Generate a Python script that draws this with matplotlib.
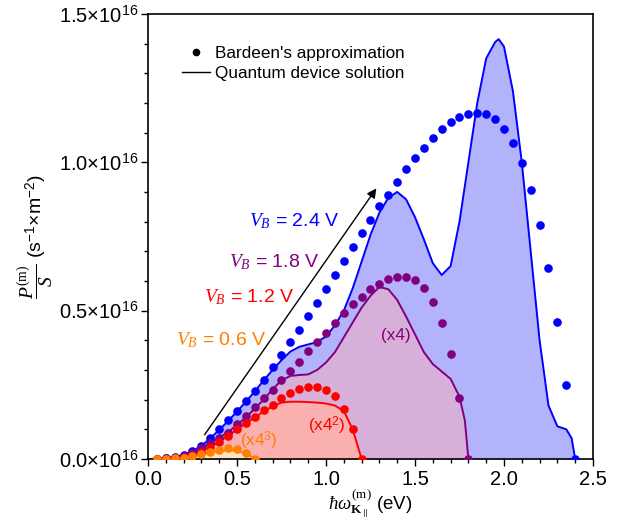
import numpy as np
import matplotlib
matplotlib.use("Agg")
import matplotlib.pyplot as plt
from matplotlib.ticker import MultipleLocator, FixedLocator, FixedFormatter, FormatStrFormatter

plt.rcParams['font.family'] = ['Liberation Sans', 'DejaVu Sans']
plt.rcParams['mathtext.fontset'] = 'custom'
plt.rcParams['mathtext.rm'] = 'Liberation Sans'
plt.rcParams['mathtext.it'] = 'Liberation Serif:italic'
plt.rcParams['mathtext.bf'] = 'Liberation Serif:bold'
plt.rcParams['mathtext.sf'] = 'Liberation Serif'   # used for upright serif bits

# --- Bardeen's approximation (dots), units of 1e16 s^-1 m^-2 ---
E_dots_24 = [0.05, 0.10, 0.15, 0.20, 0.25, 0.30, 0.35, 0.40, 0.45, 0.50, 0.55, 0.60,
             0.65, 0.70, 0.75, 0.80, 0.85, 0.90, 0.95, 1.00, 1.05, 1.10, 1.15, 1.20,
             1.25, 1.30, 1.35, 1.40, 1.45, 1.50, 1.55, 1.60, 1.65, 1.70, 1.75, 1.80,
             1.85, 1.90, 1.95, 2.00, 2.05, 2.10, 2.15, 2.20, 2.25, 2.30, 2.35, 2.40]
P_dots_24 = [0.0, 0.003, 0.007, 0.013, 0.027, 0.044, 0.072, 0.10, 0.131, 0.162, 0.195, 0.229,
             0.266, 0.31, 0.35, 0.393, 0.436, 0.482, 0.526, 0.574, 0.621, 0.667, 0.714, 0.761,
             0.806, 0.853, 0.891, 0.935, 0.976, 1.013, 1.049, 1.081, 1.111, 1.135, 1.153, 1.164,
             1.165, 1.162, 1.145, 1.113, 1.064, 0.997, 0.908, 0.79, 0.643, 0.463, 0.248, 0.0]

E_dots_18 = [0.05, 0.10, 0.15, 0.20, 0.25, 0.30, 0.35, 0.40, 0.45, 0.50, 0.55, 0.60,
             0.65, 0.70, 0.75, 0.80, 0.85, 0.90, 0.95, 1.00, 1.05, 1.10, 1.15, 1.20,
             1.25, 1.30, 1.35, 1.40, 1.45, 1.50, 1.55, 1.60, 1.65, 1.70, 1.75, 1.80]
P_dots_18 = [0.0, 0.002, 0.005, 0.01, 0.02, 0.036, 0.054, 0.072, 0.089, 0.118, 0.145, 0.176,
             0.204, 0.233, 0.266, 0.298, 0.328, 0.363, 0.393, 0.424, 0.457, 0.491, 0.521, 0.547,
             0.572, 0.591, 0.605, 0.613, 0.614, 0.603, 0.577, 0.53, 0.459, 0.353, 0.205, 0.0]

E_dots_12 = [0.05, 0.10, 0.15, 0.20, 0.25, 0.30, 0.35, 0.40, 0.45, 0.50, 0.55, 0.60,
             0.65, 0.70, 0.75, 0.80, 0.85, 0.90, 0.95, 1.00, 1.05, 1.10, 1.15, 1.20]
P_dots_12 = [0.0, 0.001, 0.003, 0.007, 0.014, 0.025, 0.04, 0.058, 0.078, 0.10, 0.121, 0.142,
             0.165, 0.183, 0.204, 0.222, 0.235, 0.242, 0.243, 0.234, 0.212, 0.168, 0.10, 0.0]

E_dots_06 = [0.05, 0.10, 0.15, 0.20, 0.25, 0.30, 0.35, 0.40, 0.45, 0.50, 0.55, 0.60]
P_dots_06 = [0.0, 0.001, 0.002, 0.005, 0.01, 0.017, 0.025, 0.031, 0.036, 0.035, 0.021, 0.0]

# --- Quantum device solution (lines) ---
E_line_24 = [0.0, 0.05, 0.10, 0.15, 0.20, 0.25, 0.30, 0.35, 0.40, 0.45, 0.50, 0.55, 0.60,
             0.65, 0.70, 0.75, 0.80, 0.85, 0.90, 0.95, 1.00, 1.05, 1.10, 1.15, 1.20,
             1.25, 1.30, 1.35, 1.40, 1.45, 1.50, 1.55, 1.60, 1.65, 1.70, 1.75, 1.80,
             1.85, 1.90, 1.95, 1.97, 2.00, 2.05, 2.10, 2.15, 2.20, 2.25, 2.30, 2.35, 2.38, 2.40]
P_line_24 = [0.0, 0.0, 0.003, 0.007, 0.013, 0.027, 0.044, 0.07, 0.098, 0.128, 0.16, 0.193, 0.228,
             0.265, 0.30, 0.333, 0.362, 0.378, 0.386, 0.394, 0.413, 0.45, 0.50, 0.575, 0.665,
             0.755, 0.83, 0.88, 0.90, 0.875, 0.815, 0.74, 0.66, 0.62, 0.65, 0.80, 1.00,
             1.20, 1.35, 1.405, 1.415, 1.39, 1.24, 1.0, 0.70, 0.40, 0.18, 0.11, 0.10, 0.07, 0.0]

E_line_18 = [0.0, 0.05, 0.10, 0.15, 0.20, 0.25, 0.30, 0.35, 0.40, 0.45, 0.50, 0.55, 0.60,
             0.65, 0.70, 0.75, 0.80, 0.85, 0.90, 0.95, 1.00, 1.05, 1.10, 1.15, 1.20,
             1.25, 1.30, 1.35, 1.40, 1.45, 1.50, 1.55, 1.60, 1.65, 1.70, 1.75, 1.78, 1.80]
P_line_18 = [0.0, 0.0, 0.002, 0.005, 0.01, 0.02, 0.035, 0.053, 0.072, 0.09, 0.115, 0.14, 0.17,
             0.20, 0.235, 0.265, 0.28, 0.283, 0.285, 0.30, 0.325, 0.36, 0.41, 0.46, 0.51,
             0.55, 0.58, 0.572, 0.536, 0.48, 0.42, 0.36, 0.32, 0.295, 0.27, 0.21, 0.13, 0.0]

E_line_12 = [0.0, 0.05, 0.10, 0.15, 0.20, 0.25, 0.30, 0.35, 0.40, 0.45, 0.50, 0.55, 0.60,
             0.65, 0.70, 0.75, 0.80, 0.85, 0.90, 0.95, 1.00, 1.05, 1.10, 1.15, 1.18, 1.20]
P_line_12 = [0.0, 0.0, 0.001, 0.003, 0.007, 0.014, 0.025, 0.04, 0.058, 0.078, 0.10, 0.12, 0.14,
             0.16, 0.178, 0.19, 0.193, 0.193, 0.192, 0.19, 0.187, 0.18, 0.162, 0.10, 0.04, 0.0]

E_line_06 = [0.0, 0.05, 0.10, 0.15, 0.20, 0.25, 0.30, 0.35, 0.40, 0.45, 0.50, 0.55, 0.58, 0.60]
P_line_06 = [0.0, 0.0, 0.001, 0.002, 0.004, 0.008, 0.014, 0.021, 0.026, 0.029, 0.028, 0.017, 0.008, 0.0]

# series: (dots E, dots P, line E, line P, colour, fill colour)
series = [
    (E_dots_24, P_dots_24, E_line_24, P_line_24, '#0000ff', '#b3b3fb'),
    (E_dots_18, P_dots_18, E_line_18, P_line_18, '#800080', '#d6b0d8'),
    (E_dots_12, P_dots_12, E_line_12, P_line_12, '#ff0000', '#fbb0b0'),
    (E_dots_06, P_dots_06, E_line_06, P_line_06, '#ff8000', '#fde2c4'),
]

fig = plt.figure(figsize=(6.33, 5.23), dpi=100)
ax = fig.add_axes([0.2338, 0.1224, 0.703, 0.851])

for Ed, Pd, El, Pl, c, fc in series:
    ax.fill_between(El, Pl, 0, color=fc, lw=0, zorder=1)
for Ed, Pd, El, Pl, c, fc in series:
    ax.plot(El, Pl, color=c, lw=1.4, zorder=2)
    ax.plot(Ed, Pd, 'o', color=c, ms=6.2, mec='none', zorder=3)

# legend
ax.plot([], [], 'o', color='k', ms=4.5, label="Bardeen's approximation")
ax.plot([], [], '-', color='k', lw=1, label='Quantum device solution')
ax.legend(loc='upper left', bbox_to_anchor=(0.05, 0.955), frameon=False, fontsize=12.3,
          handlelength=1.6, handletextpad=0.3, labelspacing=0.3, borderpad=0.2)

# arrow
ax.annotate('', xy=(1.292, 0.92), xytext=(0.309, 0.074),
            arrowprops=dict(arrowstyle='-|>', color='k', lw=1, mutation_scale=14))

# voltage labels
vfs = 14
ax.text(0.82, 0.80, r'$V_B$ = 2.4 V', color='#0000ff', fontsize=vfs, ha='center', va='center')
ax.text(0.71, 0.665, r'$V_B$ = 1.8 V', color='#800080', fontsize=vfs, ha='center', va='center')
ax.text(0.57, 0.545, r'$V_B$ = 1.2 V', color='#ff0000', fontsize=vfs, ha='center', va='center')
ax.text(0.41, 0.402, r'$V_B$ = 0.6 V', color='#ff8000', fontsize=vfs, ha='center', va='center')

# scale factors
ax.text(1.39, 0.415, '(x4)', color='#800080', fontsize=12.3, ha='center', va='center')
ax.text(1.005, 0.11, r'(x4$^2$)', color='#ff0000', fontsize=12.3, ha='center', va='center')
ax.text(0.62, 0.06, r'(x4$^3$)', color='#ff8000', fontsize=12.3, ha='center', va='center')

ax.set_xlim(0, 2.5)
ax.set_ylim(0, 1.5)
ax.xaxis.set_major_locator(MultipleLocator(0.5))
ax.xaxis.set_minor_locator(MultipleLocator(0.1))
ax.xaxis.set_major_formatter(FormatStrFormatter('%.1f'))
yt = [0.0, 0.5, 1.0, 1.5]
ax.yaxis.set_major_locator(FixedLocator(yt))
ax.yaxis.set_major_formatter(FixedFormatter([r'%.1f$\times$10$^{16}$' % v for v in yt]))
ax.yaxis.set_minor_locator(MultipleLocator(0.1))
ax.tick_params(which='major', direction='out', length=5, width=1, labelsize=14.5, pad=2)
ax.tick_params(which='minor', direction='out', length=3, width=1)
ax.tick_params(axis='x', pad=3)
for s in ax.spines.values():
    s.set_linewidth(1.2)

ax.set_xlabel(r'$\hbar\omega^{\mathsf{(m)}}_{\mathbf{K}_\parallel}$ (eV)', fontsize=13.5, labelpad=-1)
ax.set_ylabel(r'$\dfrac{P^{\mathsf{(m)}}}{S}$ (s$^{-1}$$\times$m$^{-2}$)', fontsize=14, labelpad=2)

fig.savefig('out.png', dpi=100)
